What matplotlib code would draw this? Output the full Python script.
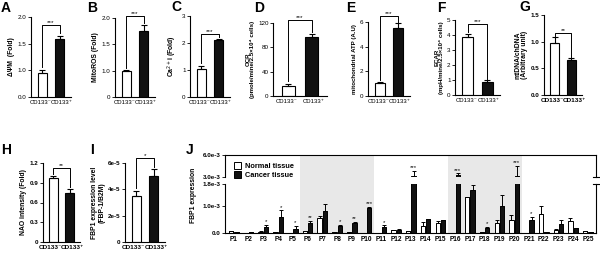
import matplotlib
matplotlib.use('Agg')
import matplotlib.pyplot as plt
import matplotlib.transforms as mtrans
import numpy as np

plt.rcParams['font.family'] = ['Liberation Sans', 'DejaVu Sans']

W, H = 600, 256
fig = plt.figure(figsize=(6, 2.56), dpi=100)

groups = ['CD133⁻', 'CD133⁺']

A_vals = [0.95, 1.58]; A_err = [0.05, 0.06]
B_vals = [0.99, 1.76]; B_err = [0.02, 0.10]
C_vals = [1.02, 2.12]; C_err = [0.13, 0.04]
D_vals = [16, 97];     D_err = [4, 5]
E_vals = [1.05, 5.55]; E_err = [0.05, 0.35]
F_vals = [3.87, 0.85]; F_err = [0.18, 0.15]
G_vals = [0.97, 0.66]; G_err = [0.11, 0.03]
H_vals = [0.97, 0.75]; H_err = [0.04, 0.06]
I_vals = [3.5e-5, 5.0e-5]; I_err = [0.4e-5, 0.55e-5]

patients = ['P%d' % i for i in range(1, 26)]
normal = [0.08, 0.01, 0.05, 0.03, 0.01, 0.06, 0.56, 0.03, 0.02, 0.01, 0.01, 0.10, 0.08,
          0.27, 0.36, 0.01, 1.31, 0.05, 0.37, 0.47, 0.01, 0.70, 0.10, 0.44, 0.08]
normal_err = [0.01, 0.0, 0.01, 0.0, 0.0, 0.01, 0.07, 0.0, 0.0, 0.0, 0.0, 0.01, 0.01,
              0.12, 0.08, 0.0, 0.03, 0.0, 0.10, 0.20, 0.0, 0.31, 0.03, 0.10, 0.01]
cancer = [0.03, 0.03, 0.23, 0.57, 0.16, 0.38, 0.82, 0.25, 0.38, 0.93, 0.23, 0.12, 3.10,
          0.51, 0.47, 3.25, 1.57, 0.19, 1.01, 3.10, 0.47, 0.03, 0.33, 0.17, 0.05]
cancer_err = [0.0, 0.0, 0.07, 0.26, 0.09, 0.05, 0.25, 0.05, 0.04, 0.02, 0.05, 0.01, 0.70,
              0.02, 0.02, 0.25, 0.18, 0.03, 0.40, 1.40, 0.13, 0.0, 0.16, 0.01, 0.0]
stars_J = {'P3': '*', 'P4': '*', 'P5': '*', 'P6': '**', 'P8': '*', 'P9': '**', 'P10': '***',
           'P11': '*', 'P13': '***', 'P16': '***', 'P18': '*', 'P20': '***', 'P21': '*'}
shaded = [('P6', 'P10'), ('P16', 'P20')]

TICK = 4.5
LAB = 4.9


def ax_px(l, r, t, b):
    return fig.add_axes([l / W, 1 - b / H, (r - l) / W, (b - t) / H])


def letter(x, y, s):
    fig.text(x / W, 1 - y / H, s, fontsize=10, fontweight='bold', va='top', ha='left')


def style(ax, lw=0.8):
    for s in ['top', 'right']:
        ax.spines[s].set_visible(False)
    for s in ['left', 'bottom']:
        ax.spines[s].set_linewidth(lw)
    ax.tick_params(axis='y', length=2, width=0.6, labelsize=TICK, pad=1.2)
    ax.tick_params(axis='x', length=0, labelsize=TICK, pad=2)


def small_panel(box, vals, errs, ylim, yticks, yticklabels, ylabel, bracket, stars,
                big_x=False, ylabel_size=LAB, bold_y=False):
    ax = ax_px(*box)
    x = np.arange(len(groups))
    ax.bar(x, vals, width=0.55, color=['white', '#111111'], edgecolor='black',
           linewidth=0.8, zorder=2)
    ax.errorbar(x, vals, yerr=[np.zeros(len(vals)), errs], fmt='none', ecolor='black',
                elinewidth=0.8, capsize=2, capthick=0.8, zorder=3)
    ax.set_xlim(-0.65, 1.65)
    ax.set_ylim(*ylim)
    ax.set_yticks(yticks)
    ax.set_yticklabels(yticklabels, fontweight='bold' if bold_y else 'normal')
    ax.set_xticks(x)
    style(ax)
    if big_x:
        labs = ax.set_xticklabels(groups, fontsize=4.6, fontweight='bold')
        shift = 2.8
    else:
        labs = ax.set_xticklabels(groups, fontsize=4.3)
        shift = 1.5
    for lab, dx in zip(labs, (-shift, shift)):
        lab.set_transform(lab.get_transform() +
                          mtrans.ScaledTranslation(dx / 100, 0, fig.dpi_scale_trans))
    ax.set_ylabel(ylabel, fontsize=ylabel_size, fontweight='bold', labelpad=2, linespacing=1.0)
    h, l_low, r_low = bracket
    ax.plot([0, 0, 1, 1], [l_low, h, h, r_low], color='black', lw=0.7, clip_on=False)
    ax.text(0.5, h, stars, ha='center', va='bottom', fontsize=4.6, clip_on=False)
    return ax


small_panel((31, 71, 17, 97), A_vals, A_err, (0.5, 2.0), [0.5, 1.0, 1.5, 2.0],
            ['0.0', '1.0', '1.5', '2.0'], 'ΔΨM  (Fold)', (1.85, 1.07, 1.7), '***')
small_panel((115, 155, 18, 97), B_vals, B_err, (0.5, 2.0), [0.5, 1.0, 1.5, 2.0],
            ['0', '1.0', '1.5', '2.0'], 'MitoROS (Fold)', (2.03, 1.05, 1.9), '***')
small_panel((190, 230, 16, 97), C_vals, C_err, (0, 3), [0, 1, 2, 3],
            ['0', '1', '2', '3'], 'Ca$^{2+}$i (Fold)', (2.35, 1.25, 2.22), '***')
small_panel((273, 327, 23, 96), D_vals, D_err, (0, 120), [0, 40, 80, 120],
            ['0', '40', '80', '120'], 'OCR\n(pmole/mine/2.5×10⁴ cells)', (125, 25, 106), '***',
            ylabel_size=4.4)
small_panel((368, 410, 22, 96), E_vals, E_err, (0, 6), [0, 2, 4, 6],
            ['0', '2', '4', '6'], 'mitochondrial ATP (A.U)', (6.45, 1.3, 6.0), '***',
            ylabel_size=4.4)
small_panel((455, 500, 20, 95), F_vals, F_err, (0, 5), [0, 1, 2, 3, 4, 5],
            ['0', '1', '2', '3', '4', '5'], 'ECAR\n(mpH/mine/2.5×10⁴ cells)', (4.73, 4.2, 1.1), '***',
            ylabel_size=4.4)
small_panel((544, 582, 15, 95), G_vals, G_err, (0, 1.5), [0, 0.5, 1.0, 1.5],
            ['0.0', '0.5', '1.0', '1.5'], 'mtDNA/chDNA\n(Arbitrary unit)', (1.16, 1.1, 0.72), '**',
            big_x=True, bold_y=True)
small_panel((43, 80, 163, 242), H_vals, H_err, (0, 1.2), [0, 0.3, 0.6, 0.9, 1.2],
            ['0', '0.3', '0.6', '0.9', '1.2'], 'NAO intensity (Fold)', (1.13, 1.03, 0.83), '**',
            big_x=True, bold_y=True)
small_panel((125, 165, 163, 242), I_vals, I_err, (0, 6e-5), [0, 2e-5, 4e-5, 6e-5],
            ['0', '2e-5', '4e-5', '6e-5'], 'FBP1 expression level\n(FBP-1/B2M)',
            (6.37e-5, 4.1e-5, 5.7e-5), '*', big_x=True, bold_y=True)

# ---- Panel J (broken axis) ----
scale = 1e-3
n_vals = np.array(normal) * scale
n_err = np.array(normal_err) * scale
c_vals = np.array(cancer) * scale
c_err = np.array(cancer_err) * scale
xj = np.arange(len(patients))
off = 0.18
bw = 0.3
xlim = (-0.6, len(patients) - 0.45)

axbg = ax_px(225, 596, 155, 233)
axbg.set_xlim(*xlim)
axbg.set_ylim(0, 1)
axbg.axis('off')
for a, b in shaded:
    axbg.axvspan(patients.index(a) - 0.5, patients.index(b) + 0.5, color='#e8e8e8', lw=0, zorder=0)

axlo = ax_px(225, 596, 184, 233)
axhi = ax_px(225, 596, 155, 177)
for ax in (axlo, axhi):
    ax.patch.set_alpha(0)
    ax.bar(xj - off, n_vals, width=bw, color='white', edgecolor='black', linewidth=0.7,
           zorder=2, label='Normal tissue')
    ax.bar(xj + off, c_vals, width=bw, color='#111111', edgecolor='black', linewidth=0.7,
           zorder=2, label='Cancer tissue')
    ax.errorbar(xj - off, n_vals, yerr=[np.zeros(len(xj)), n_err], fmt='none', ecolor='black',
                elinewidth=0.7, capsize=1.5, capthick=0.7, zorder=3)
    ax.errorbar(xj + off, c_vals, yerr=[np.zeros(len(xj)), c_err], fmt='none', ecolor='black',
                elinewidth=0.7, capsize=1.5, capthick=0.7, zorder=3)
    ax.set_xlim(*xlim)
    ax.tick_params(axis='y', length=2, width=0.6, labelsize=TICK, pad=1.2)
    ax.tick_params(axis='x', length=0, labelsize=TICK, pad=2.5)
    for s in ax.spines.values():
        s.set_linewidth(0.8)

axlo.set_ylim(0, 1.8e-3)
axlo.set_yticks([0, 1.0e-3, 1.8e-3])
axlo.set_yticklabels(['0.0', '1.0e-3', '1.8e-3'], fontweight='bold')
axlo.spines['top'].set_visible(False)
axlo.set_xticks(xj)
axlo.set_xticklabels(patients, fontsize=4.7, fontweight='bold')

axhi.set_ylim(3.0e-3, 6.0e-3)
axhi.set_yticks([3.0e-3, 6.0e-3])
axhi.set_yticklabels(['3.0e-3', '6.0e-3'], fontweight='bold')
axhi.spines['bottom'].set_visible(False)
axhi.set_xticks([])

# break marks on the right side
for ax, y in ((axlo, 1.0), (axhi, 0.0)):
    ax.plot([0.992, 1.008], [y, y], transform=ax.transAxes, color='black', lw=0.8, clip_on=False)

# stars
for p, s in stars_J.items():
    i = patients.index(p)
    top = c_vals[i] + c_err[i]
    if top > 3.0e-3:
        axhi.text(i + off, top + 0.1e-3, s, ha='center', va='bottom', fontsize=4.3)
    else:
        axlo.text(i + off, top + 0.03e-3, s, ha='center', va='bottom', fontsize=4.3)

fig.text(194 / W, 1 - 195 / H, 'FBP1 expression', rotation=90, fontsize=4.9,
         fontweight='bold', ha='center', va='center')

handles, labels = axlo.get_legend_handles_labels()
fig.legend(handles, labels, loc='upper left', bbox_to_anchor=(234 / W, 1 - 162 / H),
           frameon=False, prop={'weight': 'bold', 'size': 5.3},
           handlelength=1.0, handleheight=1.0, handletextpad=0.5, labelspacing=0.2,
           borderaxespad=0, borderpad=0)

letter(1, 1, 'A')
letter(87, 1, 'B')
letter(171, 0, 'C')
letter(254, 1, 'D')
letter(346, 1, 'E')
letter(437, 1, 'F')
letter(519, 0, 'G')
letter(1, 143, 'H')
letter(90, 143, 'I')
letter(186, 143, 'J')

fig.savefig('out.png', dpi=100)
